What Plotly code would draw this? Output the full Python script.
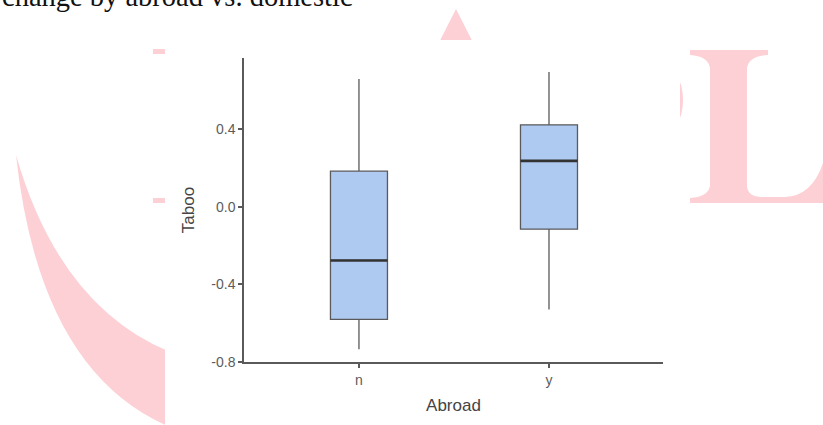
import plotly.graph_objects as go

# Box-plot summary statistics of Taboo by Abroad group
groups = ["n", "y"]
q1_vals = [-0.580, -0.116]
median_vals = [-0.277, 0.236]
q3_vals = [0.183, 0.422]
lower_whisker = [-0.734, -0.529]
upper_whisker = [0.658, 0.694]

y_ticks = [-0.8, -0.4, 0.0, 0.4]
y_tick_text = ["-0.8", "-0.4", "0.0", "0.4"]

W, H = 823, 425
L_PX, R_PX, T_PX, B_PX = 244, 663, 58, 362
BOX_W = 0.3
AXIS_GREY = "#5a5a5a"
PINK = "#fdd0d5"


def px(x, y):
    """Convert page pixel coords to paper coords."""
    return (x - L_PX) / (R_PX - L_PX), (B_PX - y) / (B_PX - T_PX)


def path(cmds):
    out = []
    for c in cmds:
        if isinstance(c, str):
            out.append(c)
        else:
            X, Y = px(*c)
            out.append(f"{X:.5f},{Y:.5f}")
    return " ".join(out)


fig = go.Figure()

fig.add_trace(go.Box(
    x=groups,
    q1=q1_vals,
    median=median_vals,
    q3=q3_vals,
    lowerfence=lower_whisker,
    upperfence=upper_whisker,
    width=BOX_W,
    whiskerwidth=0,
    fillcolor="#aecaf1",
    line=dict(color=AXIS_GREY, width=1.3),
    boxpoints=False,
    showlegend=False,
    hoverinfo="skip",
))

shapes = []

# Decorative background lettering
wm = [
    # large arc on the left
    ["M", (16, 155), "Q", (39.5, 372), (170, 427), "L", (170, 352), "Q", (59.5, 306.5), (16, 155), "Z"],
    # apex of the letter A
    ["M", (456, 9), "L", (492, 80), "L", (420, 80), "Z"],
    # serif strokes near the left edge
    ["M", (153, 49), "L", (170, 49), "L", (170, 54), "L", (153, 54), "Z"],
    ["M", (153, 198), "L", (170, 198), "L", (170, 203), "L", (153, 203), "Z"],
    # bowl of a letter P
    ["M", (676, 72), "Q", (690, 100), (676, 128), "Z"],
    # letter L
    ["M", (690, 50), "L", (768, 50), "L", (768, 55), "Q", (749, 56), (747, 68),
     "L", (747, 186), "Q", (748, 197), (762, 197), "L", (785, 197),
     "Q", (812, 196), (823, 163), "L", (823, 203), "L", (690, 203), "L", (690, 198),
     "Q", (708, 197), (710, 186), "L", (710, 68), "Q", (708, 56), (690, 55), "Z"],
]
for p in wm:
    shapes.append(dict(type="path", xref="paper", yref="paper", path=path(p),
                       fillcolor=PINK, line=dict(width=0), layer="below"))

# white chart panel
x0, y0 = px(165, 40)
x1, y1 = px(680, 430)
shapes.append(dict(type="rect", xref="paper", yref="paper", x0=x0, y0=y1, x1=x1, y1=y0,
                   fillcolor="white", line=dict(width=0), layer="below"))

# thicker median bars
for i, m in enumerate(median_vals):
    shapes.append(dict(type="line", xref="x", yref="y",
                       x0=i - BOX_W / 2, x1=i + BOX_W / 2, y0=m, y1=m,
                       line=dict(color="#333333", width=2.6), layer="above"))

tx, ty = px(1, 13)
annotations = [
    dict(text="change by abroad vs. domestic", xref="paper", yref="paper",
         x=tx, y=ty, xanchor="left", yanchor="bottom", showarrow=False,
         borderpad=0, font=dict(family="Liberation Serif", size=28.5, color="#111111")),
]

fig.update_layout(
    width=W, height=H,
    margin=dict(l=L_PX, r=W - R_PX, t=T_PX, b=H - B_PX, pad=0),
    paper_bgcolor="white",
    plot_bgcolor="rgba(0,0,0,0)",
    shapes=shapes,
    annotations=annotations,
    font=dict(family="Liberation Sans, Arial, sans-serif"),
)

fig.update_xaxes(
    type="category",
    range=[-0.605, 1.6],
    showline=True, linecolor=AXIS_GREY, linewidth=1.5,
    ticks="outside", ticklen=4, tickcolor=AXIS_GREY, tickwidth=1.5,
    tickfont=dict(size=14, color="#5c5c5c"),
    showgrid=False, zeroline=False,
    title=dict(text="Abroad", font=dict(size=17, color="#444444"), standoff=13),
)
fig.update_yaxes(
    range=[-0.8, 0.766],
    tickvals=y_ticks, ticktext=y_tick_text,
    showline=True, linecolor=AXIS_GREY, linewidth=1.5,
    ticks="outside", ticklen=4, tickcolor=AXIS_GREY, tickwidth=1.5,
    tickfont=dict(size=14, color="#5c5c5c"),
    showgrid=False, zeroline=False,
    title=dict(text="Taboo", font=dict(size=17, color="#444444"), standoff=12),
)

fig.write_html("out.html")
